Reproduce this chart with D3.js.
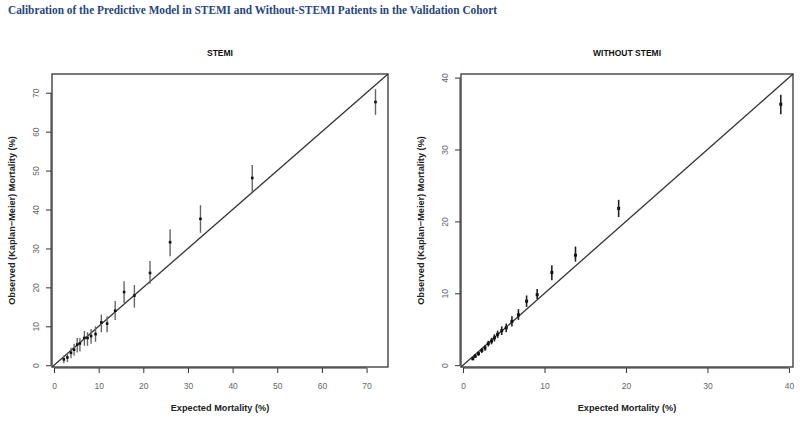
<!DOCTYPE html>
<html lang="en">
<head>
  <meta charset="UTF-8">
  <title>Calibration plots</title>
  <script src="https://d3js.org/d3.v7.min.js"></script>
  <style>
    body { margin: 0; padding: 0; background: #fff; }
    svg { display: block; }
    .main-title { font-family: "Liberation Serif", serif; font-weight: bold; font-size: 12px; fill: #27467e; }
    .panel-title { font-family: "Liberation Sans", Arial, sans-serif; font-weight: bold; font-size: 8.5px; fill: #111; }
    .axis-title { font-family: "Liberation Sans", Arial, sans-serif; font-weight: bold; font-size: 9.2px; fill: #222; }
    .axis text { font-family: "Liberation Sans", Arial, sans-serif; font-size: 8.5px; fill: #666; }
    .axis path, .axis line { stroke: #333; }
  </style>
</head>
<body>
  <div id="chart"></div>

  <script>
    // STEMI: expected, observed, lower CI, upper CI (%)
    const stemiExpected = [2.2, 3.0, 3.8, 4.5, 5.2, 5.8, 6.8, 7.5, 8.3, 9.3, 10.6, 11.9, 13.7, 15.7, 18.0, 21.5, 26.0, 32.8, 44.4, 72.0];
    const stemiObserved = [1.5, 2.0, 3.2, 4.0, 5.3, 5.6, 7.0, 7.0, 7.5, 8.0, 11.0, 10.7, 14.0, 18.8, 17.9, 23.7, 31.6, 37.6, 48.1, 67.6];
    const stemiLower    = [0.5, 0.8, 1.8, 2.5, 3.3, 3.5, 5.0, 5.0, 5.5, 6.0, 8.5, 8.5, 11.6, 16.0, 14.8, 20.9, 28.0, 34.0, 44.5, 64.3];
    const stemiUpper    = [2.5, 3.2, 4.5, 5.5, 7.0, 7.0, 8.8, 8.5, 9.3, 10.0, 13.0, 12.6, 16.5, 21.6, 20.6, 26.8, 34.9, 41.1, 51.4, 70.9];

    // Without STEMI
    const nonExpected = [1.2, 1.5, 1.9, 2.3, 2.7, 3.1, 3.5, 3.85, 4.25, 4.75, 5.3, 6.0, 6.8, 7.8, 9.1, 10.9, 13.8, 19.1, 39.0];
    const nonObserved = [0.9, 1.25, 1.6, 2.05, 2.4, 3.0, 3.35, 3.8, 4.3, 4.8, 5.2, 6.1, 7.0, 8.9, 9.8, 12.9, 15.3, 21.8, 36.3];
    const nonLower    = [0.7, 1.0, 1.3, 1.7, 2.0, 2.6, 2.9, 3.3, 3.8, 4.2, 4.6, 5.4, 6.3, 8.1, 9.2, 11.8, 14.4, 20.6, 34.9];
    const nonUpper    = [1.1, 1.5, 1.9, 2.4, 2.8, 3.4, 3.8, 4.3, 4.8, 5.4, 5.8, 6.8, 7.8, 9.7, 10.6, 13.9, 16.5, 23.0, 37.6];

    const stemiTicks = [0, 10, 20, 30, 40, 50, 60, 70];
    const nonTicks = [0, 10, 20, 30, 40];

    const mainTitle = "Calibration of the Predictive Model in STEMI and Without-STEMI Patients in the Validation Cohort";
    const xTitle = "Expected Mortality (%)";
    const yTitle = "Observed (Kaplan\u2212Meier) Mortality (%)";

    const width = 800, height = 421;

    const svg = d3.select("#chart")
      .append("svg")
      .attr("width", width)
      .attr("height", height);

    svg.append("text")
      .attr("class", "main-title")
      .attr("x", 8)
      .attr("y", 14)
      .attr("textLength", 489)
      .attr("lengthAdjust", "spacingAndGlyphs")
      .text(mainTitle);

    function zip(e, o, lo, hi) {
      return e.map((d, i) => ({ exp: d, obs: o[i], lo: lo[i], hi: hi[i] }));
    }

    const panels = [
      { title: "STEMI", data: zip(stemiExpected, stemiObserved, stemiLower, stemiUpper),
        ticks: stemiTicks, domain: [-0.45, 74.8], left: 52, right: 388,
        barColor: "#666", barWidth: 1.4, pointSize: 2.6 },
      { title: "WITHOUT STEMI", data: zip(nonExpected, nonObserved, nonLower, nonUpper),
        ticks: nonTicks, domain: [-0.25, 40.5], left: 461, right: 793,
        barColor: "#222", barWidth: 1.6, pointSize: 3 }
    ];

    const plotTop = 74, plotBottom = 367;

    panels.forEach(p => {
      const x = d3.scaleLinear().domain(p.domain).range([p.left, p.right]);
      const y = d3.scaleLinear().domain(p.domain).range([plotBottom, plotTop]);
      const g = svg.append("g");

      // panel title
      g.append("text")
        .attr("class", "panel-title")
        .attr("x", (p.left + p.right) / 2)
        .attr("y", 56)
        .attr("text-anchor", "middle")
        .text(p.title);

      // axes
      const xAxis = d3.axisBottom(x).tickValues(p.ticks).tickSize(5).tickPadding(10).tickSizeOuter(0);
      const gx = g.append("g")
        .attr("class", "axis")
        .attr("transform", `translate(0, ${plotBottom + 1})`)
        .call(xAxis);
      gx.select(".domain").remove();
      gx.append("line")
        .attr("x1", x(p.ticks[0])).attr("x2", x(p.ticks[p.ticks.length - 1]))
        .attr("stroke", "#333");

      const yAxis = d3.axisLeft(y).tickValues(p.ticks).tickSize(5).tickSizeOuter(0);
      const gy = g.append("g")
        .attr("class", "axis")
        .attr("transform", `translate(${p.left - 1}, 0)`)
        .call(yAxis);
      gy.select(".domain").remove();
      gy.append("line")
        .attr("y1", y(p.ticks[0])).attr("y2", y(p.ticks[p.ticks.length - 1]))
        .attr("stroke", "#333");
      gy.selectAll(".tick text")
        .attr("transform", "rotate(-90)")
        .attr("x", 0)
        .attr("y", -12)
        .attr("dy", 0)
        .attr("text-anchor", "middle");

      // box
      g.append("rect")
        .attr("x", p.left)
        .attr("y", plotTop)
        .attr("width", p.right - p.left)
        .attr("height", plotBottom - plotTop)
        .attr("fill", "none")
        .attr("stroke", "#333")
        .attr("stroke-width", 1.3);

      // identity line
      g.append("line")
        .attr("x1", x(p.domain[0])).attr("y1", y(p.domain[0]))
        .attr("x2", x(p.domain[1])).attr("y2", y(p.domain[1]))
        .attr("stroke", "#333")
        .attr("stroke-width", 1.3);

      // error bars
      g.selectAll(".bar")
        .data(p.data)
        .enter()
        .append("line")
        .attr("class", "bar")
        .attr("x1", d => x(d.exp)).attr("x2", d => x(d.exp))
        .attr("y1", d => y(d.lo)).attr("y2", d => y(d.hi))
        .attr("stroke", p.barColor)
        .attr("stroke-width", p.barWidth);

      // points
      g.selectAll(".pt")
        .data(p.data)
        .enter()
        .append("rect")
        .attr("class", "pt")
        .attr("x", d => x(d.exp) - p.pointSize / 2)
        .attr("y", d => y(d.obs) - p.pointSize / 2)
        .attr("width", p.pointSize)
        .attr("height", p.pointSize)
        .attr("fill", "#111");

      // axis titles
      g.append("text")
        .attr("class", "axis-title")
        .attr("x", (p.left + p.right) / 2)
        .attr("y", 411)
        .attr("text-anchor", "middle")
        .text(xTitle);

      g.append("text")
        .attr("class", "axis-title")
        .attr("transform", `translate(${p.left - 37}, ${(plotTop + plotBottom) / 2}) rotate(-90)`)
        .attr("text-anchor", "middle")
        .text(yTitle);
    });
  </script>
</body>
</html>
